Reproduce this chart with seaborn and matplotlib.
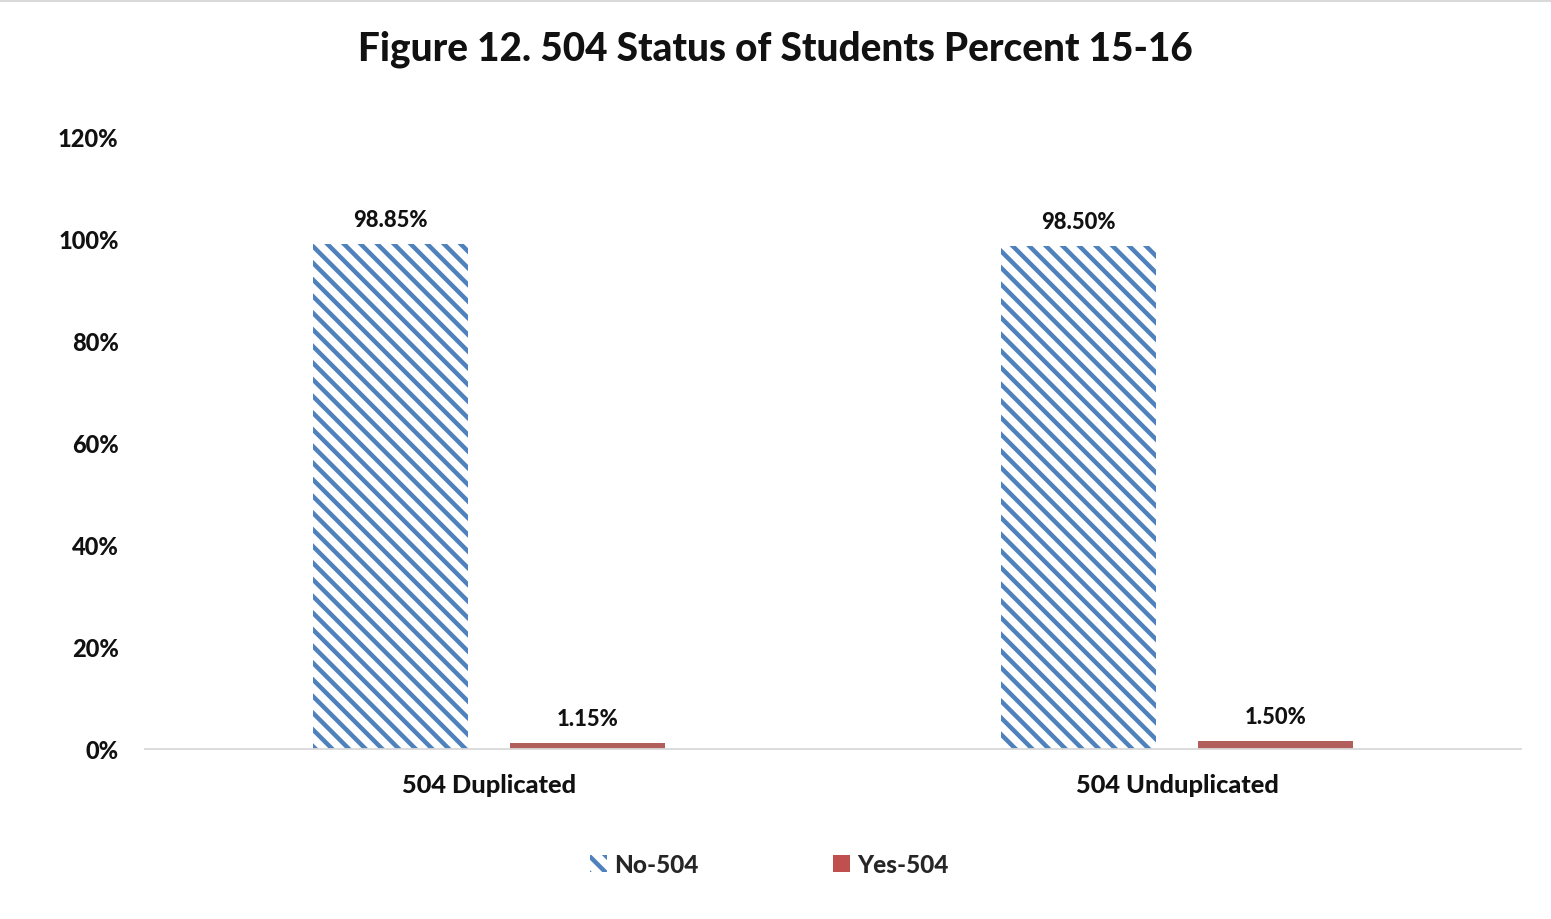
import matplotlib
matplotlib.use("Agg")
import matplotlib.pyplot as plt
from matplotlib.patches import Patch
import pandas as pd
import seaborn as sns

# chart data
categories = ["504 Duplicated", "504 Unduplicated"]
series = ["No-504", "Yes-504"]
no_504 = [98.85, 98.50]
yes_504 = [1.15, 1.50]
yticks = [0, 20, 40, 60, 80, 100, 120]

df = pd.DataFrame({
    "category": categories * 2,
    "status": [series[0]] * 2 + [series[1]] * 2,
    "value": no_504 + yes_504,
})

sns.set_theme(style="white")
plt.rcParams["font.family"] = ["Lato", "DejaVu Sans"]
plt.rcParams["hatch.linewidth"] = 3.2
W = "black"

blue = "#4F81BD"
red = "#C0504D"

fig = plt.figure(figsize=(15.51, 9.2), dpi=100)
ax = fig.add_axes([0.0935, 0.1848, 0.8872, 0.6662])

sns.barplot(data=df, x="category", y="value", hue="status", order=categories,
            hue_order=series, palette=[blue, red], width=0.572, gap=0.213,
            ax=ax, legend=False)

# hatch the No-504 bars
for p in ax.containers[0]:
    p.set_facecolor("white")
    p.set_edgecolor(blue)
    p.set_hatch("\\\\")
    p.set_linewidth(0)
for p in ax.containers[1]:
    p.set_linewidth(0)

ax.set_ylim(0, 120)
ax.set_yticks(yticks)
ax.set_yticklabels([f"{t}%" for t in yticks], fontsize=17, fontweight=W,
                   color="#111111")
ax.tick_params(axis="y", length=0, pad=19)
ax.tick_params(axis="x", length=0, pad=17)
plt.setp(ax.get_xticklabels(), fontsize=18.3, fontweight=W, color="#111111")
ax.set_xlabel("")
ax.set_ylabel("")
for s in ["top", "right", "left"]:
    ax.spines[s].set_visible(False)
ax.spines["bottom"].set_color("#D9D9D9")
ax.spines["bottom"].set_linewidth(1.3)

for container in ax.containers:
    ax.bar_label(container, fmt="%.2f%%", padding=10, fontsize=15.8,
                 fontweight=W, color="#111111")

fig.text(0.5, 0.947, "Figure 12. 504 Status of Students Percent 15-16",
         ha="center", va="center", fontsize=27.8, fontweight=W, color="#111111")

# legend
handles = [Patch(facecolor="white", edgecolor=blue, hatch="\\\\", linewidth=0),
           Patch(facecolor=red, edgecolor=red, linewidth=0)]
fig.legend(handles, series, loc="center", bbox_to_anchor=(0.496, 0.059), ncol=2,
           frameon=False, prop={"weight": W, "size": 17.6},
           handlelength=0.7, handleheight=0.7, handletextpad=0.3,
           columnspacing=5.5)

fig.add_artist(plt.Line2D([0, 1], [0.998, 0.998], color="#D9D9D9", lw=1.5,
                          transform=fig.transFigure))

fig.savefig("out.png", dpi=100)
